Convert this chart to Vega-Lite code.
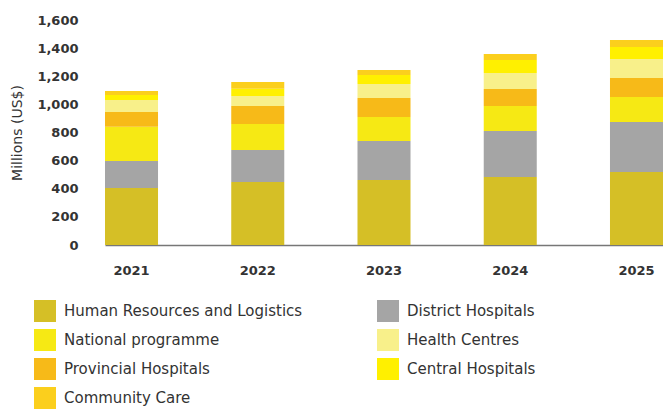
{
  "$schema": "https://vega.github.io/schema/vega-lite/v6.json",
  "width": 558,
  "height": 225,
  "autosize": {"type": "none"},
  "padding": {"left": 105, "top": 20, "right": 0, "bottom": 166},
  "background": "white",
  "config": {
    "view": {"stroke": null},
    "font": "DejaVu Sans",
    "axis": {"labelFont": "DejaVu Sans", "titleFont": "DejaVu Sans"},
    "legend": {"labelFont": "DejaVu Sans"}
  },
  "data": {
    "values": [
      {"year": "2021", "category": "Human Resources and Logistics", "value": 405, "stack": 1},
      {"year": "2021", "category": "District Hospitals", "value": 192, "stack": 2},
      {"year": "2021", "category": "National programme", "value": 244, "stack": 3},
      {"year": "2021", "category": "Provincial Hospitals", "value": 105, "stack": 4},
      {"year": "2021", "category": "Health Centres", "value": 85, "stack": 5},
      {"year": "2021", "category": "Central Hospitals", "value": 36, "stack": 6},
      {"year": "2021", "category": "Community Care", "value": 28, "stack": 7},
      {"year": "2022", "category": "Human Resources and Logistics", "value": 448, "stack": 1},
      {"year": "2022", "category": "District Hospitals", "value": 227, "stack": 2},
      {"year": "2022", "category": "National programme", "value": 185, "stack": 3},
      {"year": "2022", "category": "Provincial Hospitals", "value": 128, "stack": 4},
      {"year": "2022", "category": "Health Centres", "value": 71, "stack": 5},
      {"year": "2022", "category": "Central Hospitals", "value": 53, "stack": 6},
      {"year": "2022", "category": "Community Care", "value": 47, "stack": 7},
      {"year": "2023", "category": "Human Resources and Logistics", "value": 462, "stack": 1},
      {"year": "2023", "category": "District Hospitals", "value": 277, "stack": 2},
      {"year": "2023", "category": "National programme", "value": 171, "stack": 3},
      {"year": "2023", "category": "Provincial Hospitals", "value": 135, "stack": 4},
      {"year": "2023", "category": "Health Centres", "value": 100, "stack": 5},
      {"year": "2023", "category": "Central Hospitals", "value": 64, "stack": 6},
      {"year": "2023", "category": "Community Care", "value": 35, "stack": 7},
      {"year": "2024", "category": "Human Resources and Logistics", "value": 484, "stack": 1},
      {"year": "2024", "category": "District Hospitals", "value": 327, "stack": 2},
      {"year": "2024", "category": "National programme", "value": 177, "stack": 3},
      {"year": "2024", "category": "Provincial Hospitals", "value": 121, "stack": 4},
      {"year": "2024", "category": "Health Centres", "value": 114, "stack": 5},
      {"year": "2024", "category": "Central Hospitals", "value": 92, "stack": 6},
      {"year": "2024", "category": "Community Care", "value": 43, "stack": 7},
      {"year": "2025", "category": "Human Resources and Logistics", "value": 519, "stack": 1},
      {"year": "2025", "category": "District Hospitals", "value": 356, "stack": 2},
      {"year": "2025", "category": "National programme", "value": 177, "stack": 3},
      {"year": "2025", "category": "Provincial Hospitals", "value": 135, "stack": 4},
      {"year": "2025", "category": "Health Centres", "value": 135, "stack": 5},
      {"year": "2025", "category": "Central Hospitals", "value": 86, "stack": 6},
      {"year": "2025", "category": "Community Care", "value": 50, "stack": 7}
    ]
  },
  "mark": {"type": "bar"},
  "encoding": {
    "x": {
      "field": "year",
      "type": "nominal",
      "scale": {"paddingInner": 0.58, "paddingOuter": 0},
      "axis": {
        "title": null,
        "labelAngle": 0,
        "labelFontSize": 13,
        "labelFontWeight": "bold",
        "labelColor": "#333333",
        "labelPadding": 19,
        "ticks": false,
        "domainColor": "#777777",
        "domainWidth": 1.5
      }
    },
    "y": {
      "field": "value",
      "type": "quantitative",
      "stack": "zero",
      "scale": {"domain": [0, 1600], "nice": false},
      "axis": {
        "title": "Millions (US$)",
        "titleFontSize": 14,
        "titleFontWeight": "normal",
        "titleColor": "#333333",
        "titlePadding": 12,
        "values": [0, 200, 400, 600, 800, 1000, 1200, 1400, 1600],
        "format": ",d",
        "labelFontSize": 13,
        "labelFontWeight": "bold",
        "labelColor": "#333333",
        "labelPadding": 27,
        "ticks": false,
        "domain": false,
        "grid": false
      }
    },
    "color": {
      "field": "category",
      "type": "nominal",
      "scale": {
        "domain": ["Human Resources and Logistics", "National programme", "Provincial Hospitals", "Community Care", "District Hospitals", "Health Centres", "Central Hospitals"],
        "range": ["#D5BF26", "#F6E914", "#F7BA18", "#FBCF1D", "#A5A5A5", "#F8F08A", "#FFF000"]
      },
      "legend": {
        "title": null,
        "orient": "none",
        "legendX": -71,
        "legendY": 280,
        "columns": 2,
        "direction": "vertical",
        "symbolType": "square",
        "symbolSize": 484,
        "symbolStrokeWidth": 0,
        "symbolOpacity": 1,
        "labelFontSize": 15,
        "labelColor": "#333333",
        "labelOffset": 8,
        "labelLimit": 400,
        "rowPadding": 7,
        "columnPadding": 74,
        "padding": 0
      }
    },
    "order": {"field": "stack", "type": "quantitative"}
  }
}
